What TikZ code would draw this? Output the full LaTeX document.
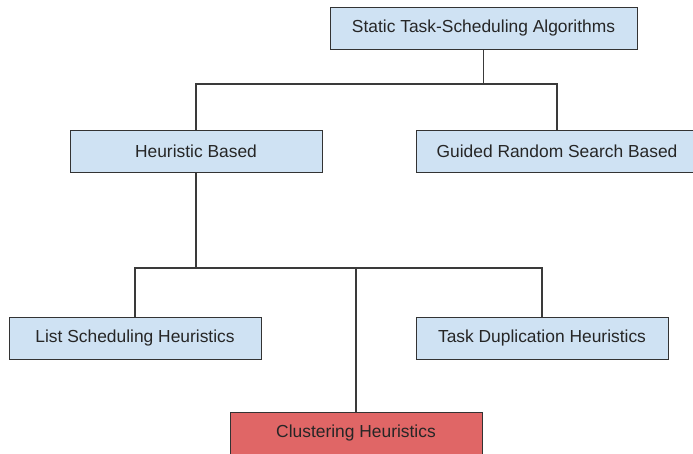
\documentclass[tikz,border=0pt]{standalone}
\usepackage{fontspec}
\setmainfont{Liberation Sans}
\definecolor{boxblue}{HTML}{CFE2F3}
\definecolor{boxred}{HTML}{E06666}
\definecolor{edge}{HTML}{333333}
\definecolor{wire}{HTML}{3A3A3A}
\begin{document}
\begin{tikzpicture}[x=1pt,y=-1pt,
  box/.style={draw=edge,line width=1pt,fill=boxblue,minimum height=42pt,inner sep=0pt,
    font=\fontsize{17.4}{20}\selectfont,text=black!85},
  redbox/.style={box,fill=boxred},
  wirestyle/.style={draw=wire,line width=1.2pt}]
\useasboundingbox (0,0) rectangle (693,453);
\clip (0,0) rectangle (693,453);
\fill[white] (0,0) rectangle (693,453);
\node[box,minimum width=307pt] (top) at (483.5,28) {Static Task-Scheduling Algorithms};
\node[box,minimum width=252pt] (heur) at (196,151.5) {Heuristic Based};
\node[box,minimum width=282pt] (guided) at (557,151.5) {Guided Random Search Based};
\node[box,minimum width=252pt] (list) at (135,338) {List Scheduling Heuristics};
\node[box,minimum width=252pt] (dup) at (542,338) {Task Duplication Heuristics};
\node[redbox,minimum width=252pt] (clus) at (356,433) {Clustering Heuristics};
\coordinate (j1) at (483.5,84);
\coordinate (j2) at (196,268);
\draw[wirestyle] (top.south) -- (j1);
\draw[wirestyle] (j1) -| (heur.north);
\draw[wirestyle] (j1) -| (guided.north);
\draw[wirestyle] (heur.south) -- (j2);
\draw[wirestyle] (j2) -| (list.north);
\draw[wirestyle] (j2) -| (dup.north);
\draw[wirestyle] (clus.north) -- (clus.north |- j2);
\end{tikzpicture}
\end{document}
